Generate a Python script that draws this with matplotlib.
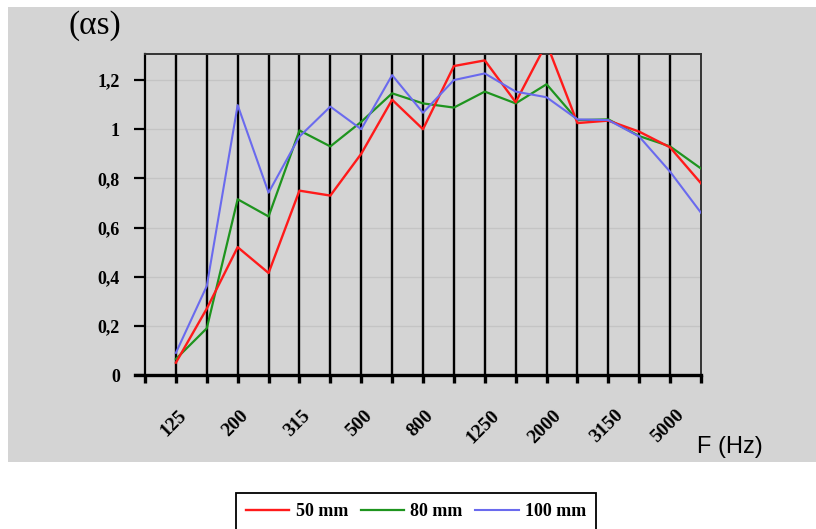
import matplotlib
matplotlib.use("Agg")
import matplotlib.pyplot as plt
from matplotlib.patches import Rectangle
import matplotlib.transforms as mtrans

freqs = ["125", "160", "200", "250", "315", "400", "500", "630", "800", "1000",
         "1250", "1600", "2000", "2500", "3150", "4000", "5000", "6300"]
tick_labels = ["125", "200", "315", "500", "800", "1250", "2000", "3150", "5000"]
y_ticks = [0, 0.2, 0.4, 0.6, 0.8, 1.0, 1.2]
y_tick_labels = ["0", "0,2", "0,4", "0,6", "0,8", "1", "1,2"]

s50 = [0.05, 0.27, 0.52, 0.415, 0.75, 0.73, 0.90, 1.12, 1.0, 1.257,
       1.28, 1.11, 1.35, 1.025, 1.035, 0.99, 0.926, 0.78]
s80 = [0.065, 0.19, 0.715, 0.645, 0.995, 0.93, 1.03, 1.146, 1.105, 1.088,
       1.153, 1.105, 1.183, 1.037, 1.04, 0.972, 0.93, 0.84]
s100 = [0.09, 0.362, 1.098, 0.742, 0.97, 1.092, 1.0, 1.22, 1.067, 1.2,
        1.227, 1.153, 1.13, 1.04, 1.037, 0.97, 0.827, 0.66]
series_names = ["50 mm", "80 mm", "100 mm"]

W, H = 816, 529
fig = plt.figure(figsize=(W / 100, H / 100), dpi=100)
fig.patch.set_facecolor("white")
bg = "#d4d4d4"
fig.patches.append(Rectangle((8 / W, 1 - 462 / H), 1 - 8 / W, (462 - 7) / H,
                             transform=fig.transFigure, facecolor=bg,
                             edgecolor="none", zorder=-10))

ax = fig.add_axes([145 / W, 1 - 375 / H, (701 - 145) / W, (375 - 54) / H])
ax.set_facecolor(bg)
x = list(range(len(freqs)))
ax.set_xlim(-1, len(freqs) - 1)
ax.set_ylim(0, 1.306)

for y in y_ticks[1:]:
    ax.axhline(y, color="#c4c4c4", lw=0.9, zorder=1)
for xi in x[:-1]:
    ax.axvline(xi, color="black", lw=1.7, zorder=2)

ax.plot(x, s50, color="#ff1a1a", lw=1.7, zorder=5, label=series_names[0])
ax.plot(x, s80, color="#1e941e", lw=1.6, zorder=4, label=series_names[1])
ax.plot(x, s100, color="#6a6aee", lw=1.5, zorder=6, label=series_names[2])

for side in ["top", "right"]:
    ax.spines[side].set_color("#333333")
    ax.spines[side].set_linewidth(1.4)
ax.spines["left"].set_color("black")
ax.spines["left"].set_linewidth(1.6)
ax.spines["bottom"].set_color("black")
ax.spines["bottom"].set_linewidth(2.4)
ax.spines["bottom"].set_bounds(-1.33, len(freqs) - 1)

ax.set_xticks([-1] + x)
ax.set_xticklabels([""] + [f if f in tick_labels else "" for f in freqs])
ax.tick_params(axis="x", direction="out", length=6, width=2.4, color="black",
               pad=6)
offset = mtrans.ScaledTranslation(-2 / 100, -15 / 100, fig.dpi_scale_trans)
for lab in ax.get_xticklabels():
    lab.set_rotation(45)
    lab.set_ha("center")
    lab.set_va("top")
    lab.set_fontfamily("Liberation Serif")
    lab.set_fontweight("bold")
    lab.set_fontsize(14)
    lab.set_transform(lab.get_transform() + offset)

ax.set_yticks(y_ticks)
ax.set_yticklabels(y_tick_labels, fontfamily="Liberation Serif",
                   fontweight="bold", fontsize=13)
ax.tick_params(axis="y", direction="out", length=8, width=1.6, color="black",
               pad=10)

fig.text(95 / W, 1 - 26 / H, "(αs)", fontfamily="Liberation Serif",
         fontsize=24, ha="center", va="center")
fig.text(697 / W, 1 - 453 / H, "F (Hz)", fontfamily="Liberation Sans",
         fontsize=17, ha="left", va="baseline")

leg = fig.legend(loc="upper center", bbox_to_anchor=(416 / W, 1 - 493 / H),
                 ncol=3, frameon=True, fancybox=False, edgecolor="black",
                 framealpha=1, handlelength=2.4, handletextpad=0.35,
                 columnspacing=0.7, borderpad=0.55, borderaxespad=0,
                 prop={"family": "Liberation Serif", "weight": "bold",
                       "size": 13})
leg.get_frame().set_linewidth(1.3)

fig.savefig("out.png", dpi=100)
